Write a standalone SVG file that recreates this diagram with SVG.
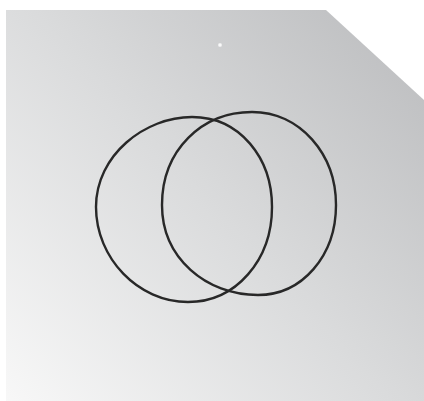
<svg xmlns="http://www.w3.org/2000/svg" width="424" height="401" viewBox="0 0 424 401">
  <defs>
    <linearGradient id="bg" x1="0" y1="401" x2="424" y2="10" gradientUnits="userSpaceOnUse">
      <stop offset="0" stop-color="#f8f8f8"/>
      <stop offset="0.5" stop-color="#dadbdc"/>
      <stop offset="1" stop-color="#babbbd"/>
    </linearGradient>
    <radialGradient id="glow">
      <stop offset="0" stop-color="#ffffff"/>
      <stop offset="0.5" stop-color="#ffffff" stop-opacity="0.8"/>
      <stop offset="1" stop-color="#ffffff" stop-opacity="0"/>
    </radialGradient>
  </defs>
  <style>
    .ring { fill: none; stroke: #282828; stroke-width: 2.4; }
  </style>
  <rect width="424" height="401" fill="#ffffff"/>
  <polygon id="panel" points="6,10 326,10 424,100 424,401 6,401" fill="url(#bg)"/>
  <circle id="spark" cx="220" cy="45" r="2.5" fill="url(#glow)"/>
  <g id="left-ring">
    <path class="ring" d="M 96 207 C 96 155 145 117 192 117 C 240 117 272 158 272 207 C 272 260 236 302 188 302 C 138 302 96 258 96 207 Z"/>
  </g>
  <g id="right-ring">
    <path class="ring" d="M 162 205 C 162 150 202 112 252 112 C 300 112 336 154 336 205 C 336 256 302 295 258 295 C 206 295 162 258 162 205 Z"/>
  </g>
</svg>
